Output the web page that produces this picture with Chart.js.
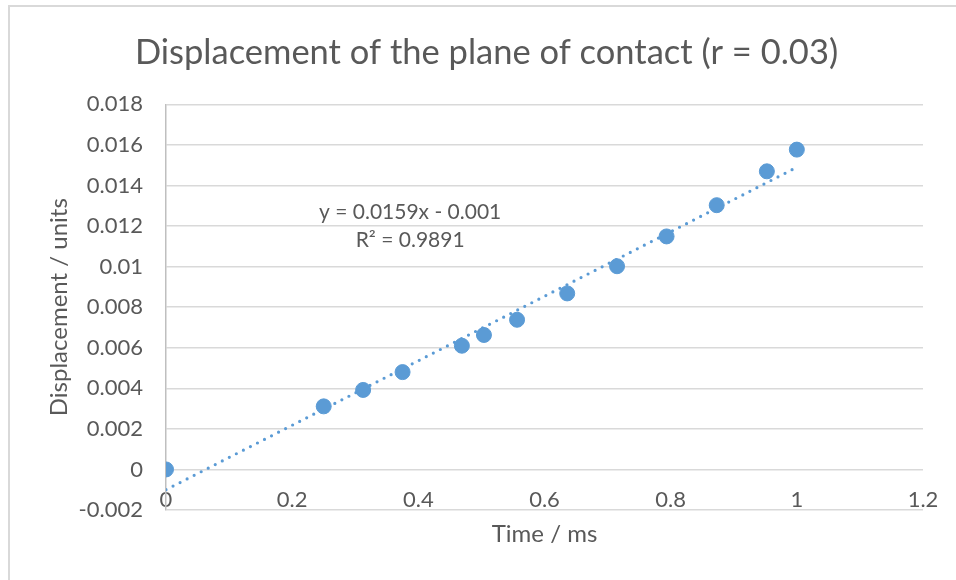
<!DOCTYPE html>
<html>
<head>
<meta charset="utf-8">
<script src="https://cdn.jsdelivr.net/npm/chart.js@4/dist/chart.umd.min.js"></script>
<style>
    html, body { margin: 0; padding: 0; background: #fff; }
    #wrap { position: relative; width: 956px; height: 580px; overflow: hidden; }
    #frame {
        position: absolute; left: 8px; top: 5px; width: 1000px; height: 1000px;
        border-left: 2px solid #d9d9d9; border-top: 2px solid #d9d9d9;
    }
    #plot { position: absolute; left: 0; top: 0; }
</style>
</head>
<body>
<div id="wrap">
    <div id="frame"></div>
    <canvas id="plot" width="956" height="580"></canvas>
</div>
<script>
(() => {
    // measured samples: time (ms) vs displacement
    const timeMs = [0, 0.25, 0.3125, 0.375, 0.469, 0.504, 0.5565, 0.636, 0.715, 0.7935, 0.873, 0.9525, 1];
    const displacement = [0, 0.00311, 0.00392, 0.0048, 0.0061, 0.00663, 0.00738, 0.00868, 0.01002, 0.01149, 0.01303, 0.0147, 0.01577];

    // linear trendline y = slope * x + intercept
    const trendSlope = 0.0159;
    const trendIntercept = -0.001;
    const trendRange = [0, 1];
    const trendR2 = 0.9891;

    const xTicks = [0, 0.2, 0.4, 0.6, 0.8, 1, 1.2];
    const yTicks = [-0.002, 0, 0.002, 0.004, 0.006, 0.008, 0.01, 0.012, 0.014, 0.016, 0.018];

    const FONT = 'Lato, "Open Sans", sans-serif';
    const GREY = '#595959';
    const BLUE = '#5b9bd5';

    const points = timeMs.map((t, i) => ({ x: t, y: displacement[i] }));
    const trend = trendRange.map(x => ({ x, y: trendSlope * x + trendIntercept }));

    const fmt = (v) => String(Number(v.toFixed(4)));

    // equation label anchored in data space
    const eqLabel = {
        id: 'eqLabel',
        afterDatasetsDraw(chart) {
            const { ctx, scales } = chart;
            const cx = scales.x.getPixelForValue(0.387);
            const cy = scales.y.getPixelForValue(0.0127);
            ctx.save();
            ctx.fillStyle = GREY;
            ctx.font = '21px ' + FONT;
            ctx.textAlign = 'center';
            ctx.textBaseline = 'middle';
            ctx.fillText('y = ' + trendSlope + 'x - ' + Math.abs(trendIntercept), cx, cy);
            ctx.fillText('R² = ' + trendR2, cx, cy + 28);
            ctx.restore();
        }
    };

    new Chart(document.getElementById('plot').getContext('2d'), {
        type: 'scatter',
        data: {
            datasets: [
                {
                    type: 'line',
                    data: trend,
                    borderColor: BLUE,
                    borderWidth: 3.2,
                    borderDash: [0, 7.9],
                    borderCapStyle: 'round',
                    pointRadius: 0,
                    fill: false,
                    order: 2
                },
                {
                    data: points,
                    backgroundColor: BLUE,
                    borderColor: BLUE,
                    pointRadius: 7.5,
                    pointHoverRadius: 7.5,
                    order: 1
                }
            ]
        },
        options: {
            responsive: false,
            animation: false,
            events: [],
            layout: { padding: { left: 50, right: 33, top: 0, bottom: 0 } },
            scales: {
                // value axis crossing at y = 0, labels only
                x: {
                    type: 'linear',
                    position: { y: 0 },
                    min: 0,
                    max: 1.2,
                    afterBuildTicks: (s) => { s.ticks = xTicks.map(v => ({ value: v })); },
                    grid: { display: false, drawTicks: false },
                    border: { display: false },
                    ticks: {
                        padding: 17,
                        color: GREY,
                        font: { family: FONT, size: 22 },
                        maxRotation: 0,
                        autoSkip: false,
                        callback: fmt
                    }
                },
                // bottom band holding the axis title
                xTitle: {
                    type: 'linear',
                    position: 'bottom',
                    min: 0,
                    max: 1.2,
                    afterFit: (s) => { s.height = 70; },
                    grid: { display: false, drawTicks: false },
                    border: { display: false },
                    ticks: { display: false },
                    title: {
                        display: true,
                        text: 'Time / ms',
                        color: GREY,
                        font: { family: FONT, size: 24 },
                        padding: { top: 0, bottom: 31 }
                    }
                },
                y: {
                    type: 'linear',
                    min: -0.002,
                    max: 0.018,
                    afterBuildTicks: (s) => { s.ticks = yTicks.map(v => ({ value: v })); },
                    afterFit: (s) => { s.width = 116; },
                    grid: {
                        drawTicks: false,
                        color: '#d9d9d9',
                        lineWidth: 1.5
                    },
                    border: { display: true, color: '#bfbfbf', width: 1.5 },
                    ticks: {
                        padding: 23,
                        color: GREY,
                        font: { family: FONT, size: 22 },
                        callback: fmt
                    },
                    title: {
                        display: true,
                        text: 'Displacement / units',
                        color: GREY,
                        font: { family: FONT, size: 24 },
                        padding: { top: -5, bottom: 0 }
                    }
                }
            },
            plugins: {
                legend: { display: false },
                tooltip: { enabled: false },
                title: {
                    display: true,
                    text: 'Displacement of the plane of contact (r = 0.03)',
                    color: GREY,
                    font: { family: FONT, size: 34.5, weight: 'normal' },
                    padding: { top: 32, bottom: 31 }
                }
            }
        },
        plugins: [eqLabel]
    });
})();
</script>
</body>
</html>
